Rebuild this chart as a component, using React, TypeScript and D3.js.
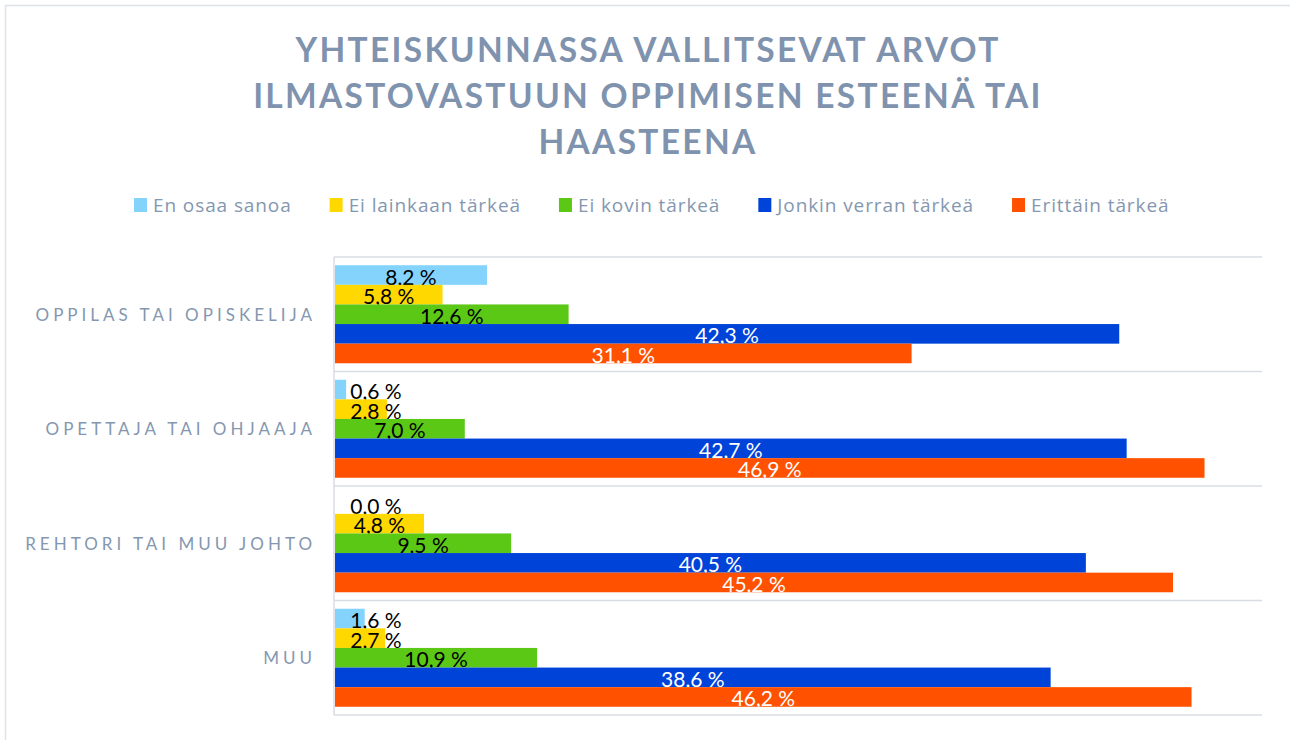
import React, { useEffect, useRef } from "react";
import * as d3 from "d3";

const titleLines = [
  "YHTEISKUNNASSA VALLITSEVAT ARVOT",
  "ILMASTOVASTUUN OPPIMISEN ESTEENÄ TAI",
  "HAASTEENA",
];
const categories = [
  "OPPILAS TAI OPISKELIJA",
  "OPETTAJA TAI OHJAAJA",
  "REHTORI TAI MUU JOHTO",
  "MUU",
];
const seriesNames = [
  "En osaa sanoa",
  "Ei lainkaan tärkeä",
  "Ei kovin tärkeä",
  "Jonkin verran tärkeä",
  "Erittäin tärkeä",
];
const enOsaaSanoa = [8.2, 0.6, 0.0, 1.6];
const eiLainkaanTarkea = [5.8, 2.8, 4.8, 2.7];
const eiKovinTarkea = [12.6, 7.0, 9.5, 10.9];
const jonkinVerranTarkea = [42.3, 42.7, 40.5, 38.6];
const erittainTarkea = [31.1, 46.9, 45.2, 46.2];
const seriesValues = [enOsaaSanoa, eiLainkaanTarkea, eiKovinTarkea, jonkinVerranTarkea, erittainTarkea];
const seriesColors = ["#83d3fd", "#ffd800", "#5bc816", "#0043d9", "#ff5100"];
const labelColors = ["#000000", "#000000", "#000000", "#ffffff", "#ffffff"];
const xMax = 50;

const W = 1290;
const H = 740;
const FONT = "Lato, 'Open Sans', sans-serif";
const LEGEND_FONT = "'Open Sans', Lato, sans-serif";

export default function App() {
  const ref = useRef<SVGSVGElement | null>(null);

  useEffect(() => {
    const svg = d3.select(ref.current);
    svg.selectAll("*").remove();

    const margin = { left: 335, right: 28, top: 257, bottom: 25 };
    const x = d3.scaleLinear().domain([0, xMax]).range([margin.left, W - margin.right]);
    const y = d3.scaleBand<string>().domain(categories).range([margin.top, H - margin.bottom]).padding(0);
    const ys = d3.scaleBand<string>().domain(seriesNames).range([0, y.bandwidth()]).paddingInner(0).paddingOuter(0.42);

    // chart border
    svg.append("rect")
      .attr("x", 5.5).attr("y", 5.5).attr("width", W + 10).attr("height", H + 10)
      .attr("fill", "#ffffff").attr("stroke", "#dde2e8").attr("stroke-width", 1.5);

    // title
    const title = svg.append("text")
      .attr("text-anchor", "middle")
      .attr("font-family", FONT)
      .attr("font-weight", 700)
      .attr("font-size", 33.5)
      .attr("letter-spacing", 2.3)
      .attr("fill", "#7f93ae");
    titleLines.forEach((line, i) => {
      title.append("tspan").attr("x", 648).attr("y", 62 + i * 46).text(line);
    });

    // legend
    const legend = svg.append("g").attr("transform", "translate(134,0)");
    let cx = 0;
    seriesNames.forEach((name, i) => {
      const g = legend.append("g").attr("transform", `translate(${cx},0)`);
      g.append("rect").attr("x", 0).attr("y", 198).attr("width", 13).attr("height", 14).attr("fill", seriesColors[i]);
      const t = g.append("text")
        .attr("x", 19).attr("y", 212)
        .attr("font-family", LEGEND_FONT).attr("font-size", 19)
        .attr("letter-spacing", 0.9)
        .attr("fill", "#8497b0").text(name);
      const w = (t.node() as SVGTextElement).getComputedTextLength();
      cx += 19 + w + 38;
    });

    // gridlines at category boundaries
    const bounds = categories.map((c) => y(c) as number).concat([(y(categories[categories.length - 1]) as number) + y.bandwidth()]);
    svg.append("g").selectAll("line").data(bounds).join("line")
      .attr("x1", x(0) - 1).attr("x2", x(xMax))
      .attr("y1", (d) => d).attr("y2", (d) => d)
      .attr("stroke", "#d9dde3").attr("stroke-width", 1.5);
    svg.append("line")
      .attr("x1", x(0) - 1).attr("x2", x(0) - 1)
      .attr("y1", bounds[0]).attr("y2", bounds[bounds.length - 1])
      .attr("stroke", "#d9dde3").attr("stroke-width", 1.5);

    // category labels
    svg.append("g").selectAll("text").data(categories).join("text")
      .attr("x", x(0) - 19)
      .attr("y", (d) => (y(d) as number) + y.bandwidth() / 2)
      .attr("text-anchor", "end")
      .attr("dominant-baseline", "central")
      .attr("font-family", FONT).attr("font-size", 17)
      .attr("letter-spacing", 4)
      .attr("fill", "#8497b0")
      .text((d) => d);

    // bars
    const fmt = (v: number) => v.toFixed(1).replace(".", ",") + " %";
    seriesNames.forEach((s, si) => {
      const g = svg.append("g");
      const data = categories.map((c, ci) => ({ c, v: seriesValues[si][ci] }));
      g.selectAll("rect").data(data).join("rect")
        .attr("x", x(0))
        .attr("y", (d) => (y(d.c) as number) + (ys(s) as number))
        .attr("width", (d) => x(d.v) - x(0))
        .attr("height", ys.bandwidth())
        .attr("fill", seriesColors[si]);
      g.selectAll("text").data(data).join("text")
        .attr("x", (d) => Math.max((x(0) + x(d.v)) / 2, x(0) + 41))
        .attr("y", (d) => (y(d.c) as number) + (ys(s) as number) + ys.bandwidth() / 2 + 1)
        .attr("text-anchor", "middle")
        .attr("dominant-baseline", "central")
        .attr("font-family", FONT).attr("font-size", 21)
        .attr("fill", labelColors[si])
        .text((d) => fmt(d.v));
    });
  }, []);

  return (
    <svg
      ref={ref}
      width={W}
      height={H}
      style={{ position: "fixed", left: 0, top: 0, display: "block", background: "#ffffff" }}
    />
  );
}
